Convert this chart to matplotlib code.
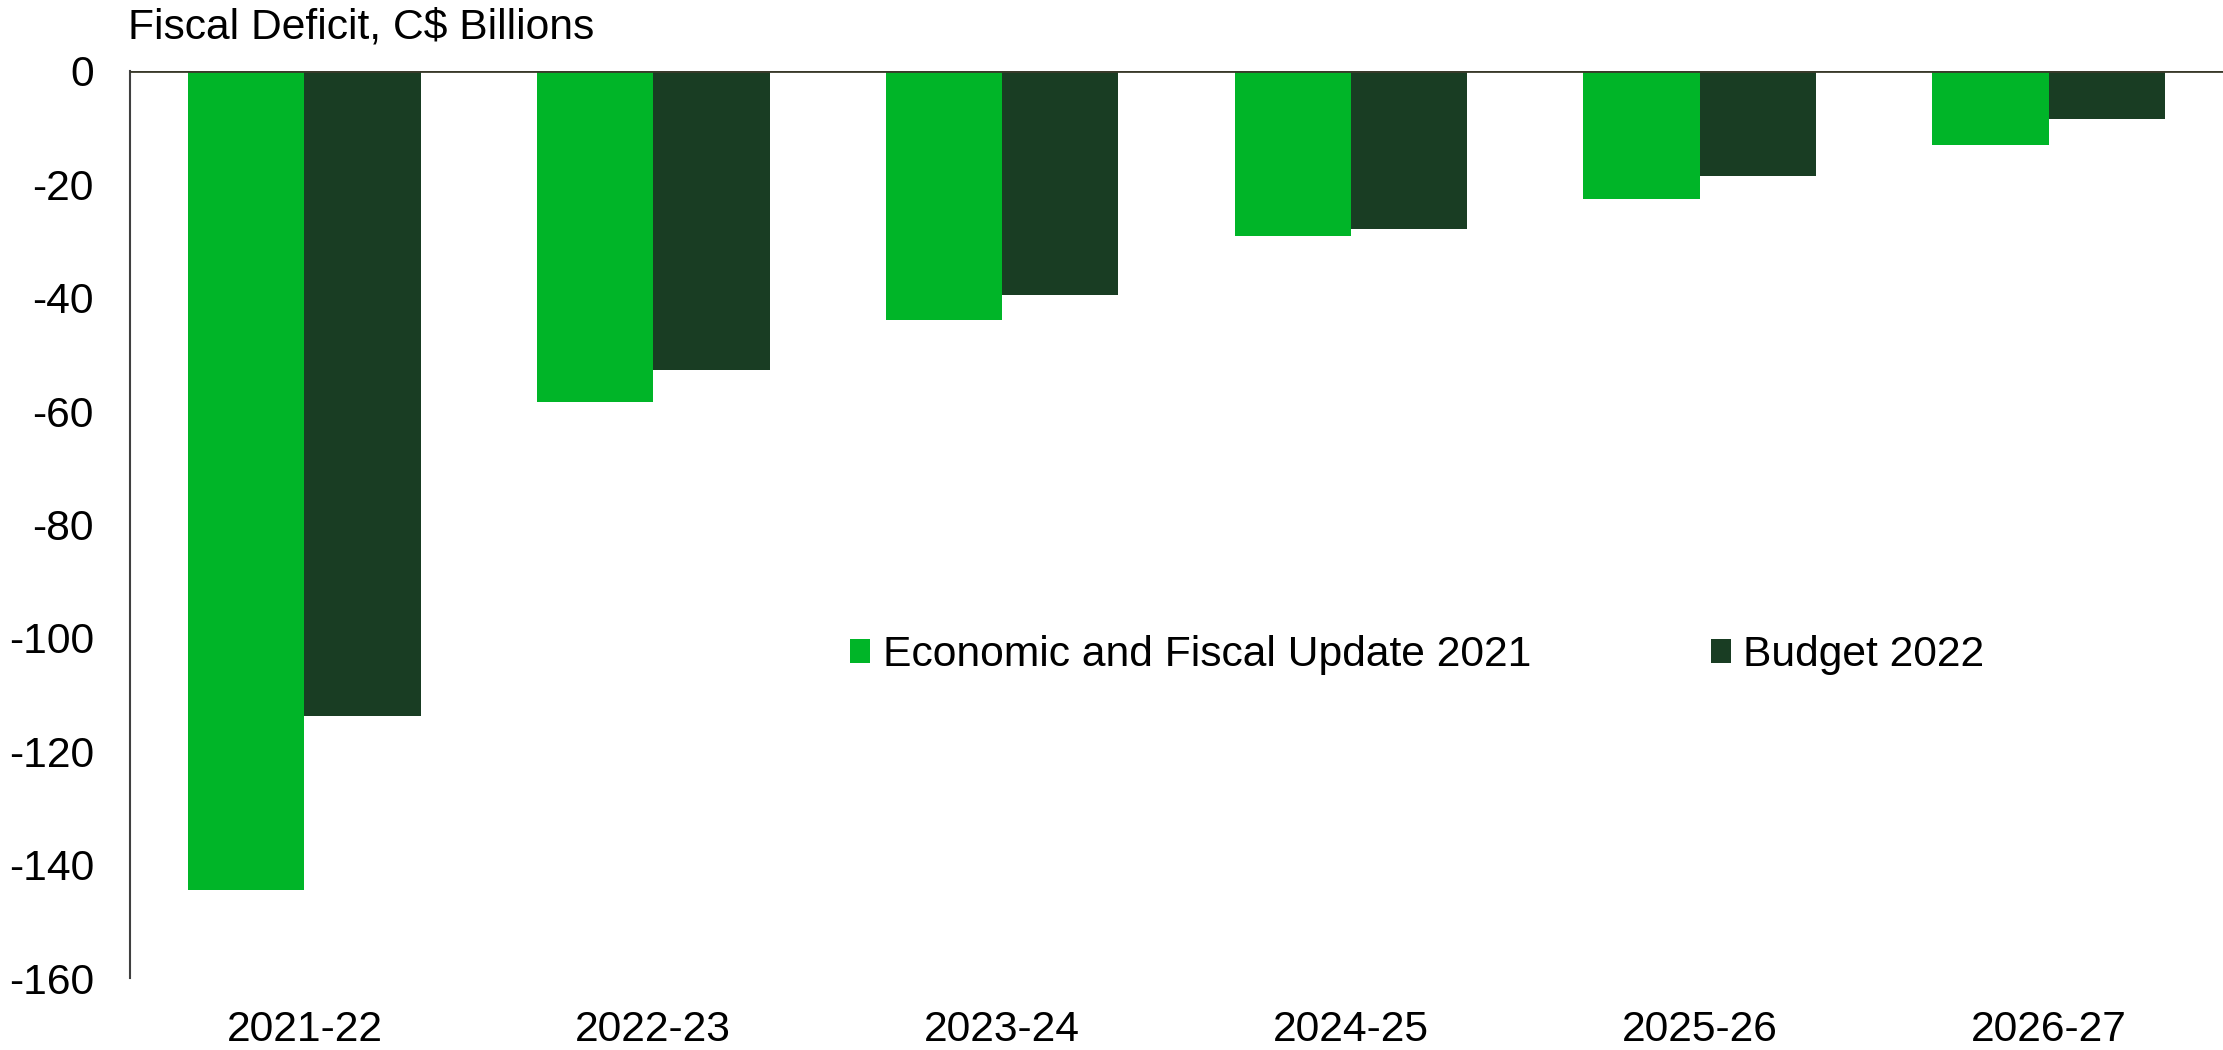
import matplotlib
matplotlib.use("Agg")
import matplotlib.pyplot as plt
import numpy as np

plt.rcParams['font.family'] = ['Liberation Sans', 'DejaVu Sans']

categories = ["2021-22", "2022-23", "2023-24", "2024-25", "2025-26", "2026-27"]
efu_2021 = [-144.5, -58.4, -43.9, -29.1, -22.6, -13.1]
budget_2022 = [-113.8, -52.8, -39.6, -27.8, -18.6, -8.4]
series_names = ["Economic and Fiscal Update 2021", "Budget 2022"]
yticks = [0, -20, -40, -60, -80, -100, -120, -140, -160]

c_light = "#00B528"
c_dark = "#193D23"
FS = 30.7

fig = plt.figure(figsize=(22.23, 10.5), dpi=100)
ax = fig.add_axes([130/2223, 1-978/1050, 1-130/2223, (978-71)/1050])

x = np.arange(len(categories))
w = 1/3
ax.bar(x - w/2, efu_2021, width=w, color=c_light, label=series_names[0])
ax.bar(x + w/2, budget_2022, width=w, color=c_dark, label=series_names[1])

ax.set_xlim(-0.5, len(categories) - 0.5)
ax.set_ylim(-160, 0)
ax.set_yticks(yticks)
ax.set_yticklabels([str(v) for v in yticks])
ax.set_xticks(x)
ax.set_xticklabels(categories)
ax.tick_params(axis='y', length=0, pad=26, labelsize=FS)
ax.tick_params(axis='x', length=0, pad=23, labelsize=FS)

for s in ['right', 'bottom', 'top']:
    ax.spines[s].set_visible(False)
ax.spines['left'].set_color('#404040')
ax.spines['left'].set_linewidth(1.5)
ax.axhline(0, color='#3a3a2a', lw=2, zorder=5)

fig.text(128/2223, 1-28/1050, "Fiscal Deficit, C$ Billions", fontsize=FS,
         ha='left', va='center')

leg = fig.legend(loc='center left', bbox_to_anchor=(829/2223, 1-655/1050),
                 ncol=2, frameon=False, fontsize=FS, borderpad=0,
                 handlelength=0.47, handleheight=0.47, handletextpad=0.3,
                 columnspacing=4.2)

fig.savefig("out.png", dpi=100)
